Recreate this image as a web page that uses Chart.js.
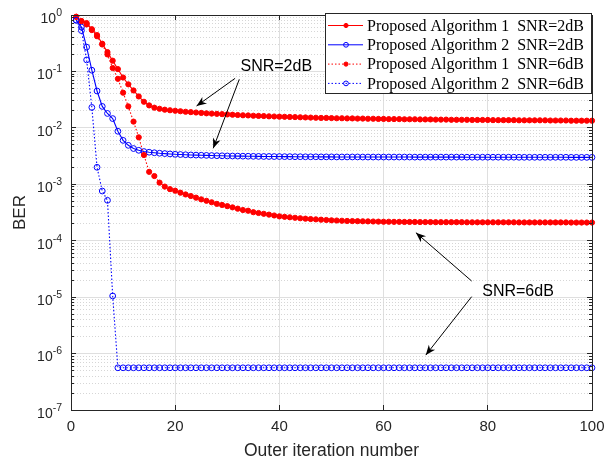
<!DOCTYPE html>
<html><head><meta charset="utf-8">
<script src="https://cdn.jsdelivr.net/npm/chart.js@4.4.1/dist/chart.umd.min.js"></script>
<style>html,body{margin:0;padding:0;background:#fff;}#wrap{width:613px;height:462px;}</style>
</head><body><div id="wrap"><canvas id="c" width="613" height="462"></canvas></div>
<script>
// ---------- data ----------
const iterations = [1,2,3,4,5,6,7,8,9,10,11,12,13,14,15,16,17,18,19,20,21,22,23,24,25,26,27,28,29,30,31,32,33,34,35,36,37,38,39,40,41,42,43,44,45,46,47,48,49,50,51,52,53,54,55,56,57,58,59,60,61,62,63,64,65,66,67,68,69,70,71,72,73,74,75,76,77,78,79,80,81,82,83,84,85,86,87,88,89,90,91,92,93,94,95,96,97,98,99,100];

const alg1Snr2 = [0.93,0.78,0.72,0.56,0.44,0.31,0.22,0.155,0.11,0.078,
0.059,0.046,0.036,0.029,0.025,0.0228,0.0218,0.0210,0.0205,0.0201,
0.0197,0.0193,0.0190,0.0187,0.0184,0.0181,0.0179,0.0177,0.0175,0.0173,
0.0171,0.0169,0.0167,0.0166,0.0164,0.0163,0.0162,0.0160,0.0159,0.0158,
0.0157,0.0156,0.0155,0.0154,0.0153,0.0152,0.0151,0.0150,0.0150,0.0149,
0.0148,0.0148,0.0147,0.0147,0.0146,0.0146,0.0145,0.0145,0.0144,0.0144,
0.0143,0.0143,0.0143,0.0142,0.0142,0.0142,0.0141,0.0141,0.0141,0.0140,
0.0140,0.0140,0.0139,0.0139,0.0139,0.0139,0.0138,0.0138,0.0138,0.0138,
0.0137,0.0137,0.0137,0.0137,0.0137,0.0136,0.0136,0.0136,0.0136,0.0136,
0.0136,0.0135,0.0135,0.0135,0.0135,0.0134,0.0134,0.0134,0.0134,0.0134];

const alg2Snr2 = [0.81,0.61,0.27,0.105,0.045,0.024,0.018,0.0146,0.0087,0.0060,
0.0049,0.0043,0.0040,0.0038,0.0037,0.00362,0.00355,0.00350,0.00345,0.00340,
0.00337,0.00334,0.00331,0.00329,0.00327,0.00325,0.00323,0.00321,0.00320,0.00318,
0.00317,0.00316,0.00315,0.00314,0.00313,0.00312,0.00311,0.00311,0.00310,0.00310,
0.00309,0.00309,0.00308,0.00308,0.00307,0.00307,0.00307,0.00306,0.00306,0.00306,
0.00305,0.00305,0.00305,0.00305,0.00305,0.00304,0.00304,0.00304,0.00304,0.00304,
0.00304,0.00304,0.00304,0.00304,0.00304,0.00303,0.00303,0.00303,0.00303,0.00303,
0.00303,0.00303,0.00303,0.00303,0.00303,0.00302,0.00302,0.00302,0.00302,0.00302,
0.00302,0.00302,0.00302,0.00302,0.00302,0.00301,0.00301,0.00301,0.00301,0.00301,
0.00301,0.00301,0.00301,0.00301,0.00301,0.00300,0.00300,0.00300,0.00300,0.00300];

const alg1Snr6 = [0.93,0.78,0.68,0.54,0.42,0.30,0.20,0.115,0.074,0.042,
0.024,0.0129,0.0068,0.0033,0.00166,0.0014,0.00107,0.00091,0.00082,0.00077,
0.00071,0.00066,0.00062,0.00058,0.00054,0.00051,0.00048,0.00045,0.00043,0.00041,
0.00039,0.00037,0.00035,0.00034,0.00032,0.00031,0.00030,0.00029,0.00028,0.00027,
0.000265,0.00026,0.000255,0.00025,0.000246,0.000242,0.000239,0.000236,0.000233,0.00023,
0.000228,0.000226,0.000224,0.000223,0.000222,0.000221,0.00022,0.000219,0.000218,0.000217,
0.000217,0.000216,0.000216,0.000215,0.000215,0.000215,0.000214,0.000214,0.000214,0.000213,
0.000213,0.000213,0.000213,0.000213,0.000213,0.000212,0.000212,0.000212,0.000212,0.000212,
0.000212,0.000212,0.000212,0.000212,0.000212,0.000211,0.000211,0.000211,0.000211,0.000211,
0.000211,0.000211,0.000211,0.000211,0.000211,0.00021,0.00021,0.00021,0.00021,0.00021];

const alg2Snr6 = [0.81,0.53,0.16,0.023,0.0020,0.00076,0.00052,1.05e-5,5.6e-7,5.6e-7,
5.6e-7,5.6e-7,5.6e-7,5.6e-7,5.6e-7,5.6e-7,5.6e-7,5.6e-7,5.6e-7,5.6e-7,
5.6e-7,5.6e-7,5.6e-7,5.6e-7,5.6e-7,5.6e-7,5.6e-7,5.6e-7,5.6e-7,5.6e-7,
5.6e-7,5.6e-7,5.6e-7,5.6e-7,5.6e-7,5.6e-7,5.6e-7,5.6e-7,5.6e-7,5.6e-7,
5.6e-7,5.6e-7,5.6e-7,5.6e-7,5.6e-7,5.6e-7,5.6e-7,5.6e-7,5.6e-7,5.6e-7,
5.6e-7,5.6e-7,5.6e-7,5.6e-7,5.6e-7,5.6e-7,5.6e-7,5.6e-7,5.6e-7,5.6e-7,
5.6e-7,5.6e-7,5.6e-7,5.6e-7,5.6e-7,5.6e-7,5.6e-7,5.6e-7,5.6e-7,5.6e-7,
5.6e-7,5.6e-7,5.6e-7,5.6e-7,5.6e-7,5.6e-7,5.6e-7,5.6e-7,5.6e-7,5.6e-7,
5.6e-7,5.6e-7,5.6e-7,5.6e-7,5.6e-7,5.6e-7,5.6e-7,5.6e-7,5.6e-7,5.6e-7,
5.6e-7,5.6e-7,5.6e-7,5.6e-7,5.6e-7,5.6e-7,5.6e-7,5.6e-7,5.6e-7,5.6e-7];

const seriesLabels = ['Proposed Algorithm 1  SNR=2dB','Proposed Algorithm 2  SNR=2dB','Proposed Algorithm 1  SNR=6dB','Proposed Algorithm 2  SNR=6dB'];
const xTickValues = [0,20,40,60,80,100];
const yDecadeExponents = [0,-1,-2,-3,-4,-5,-6,-7];
const xTitle = 'Outer iteration number';
const yTitle = 'BER';
// annotation text anchors and arrows in data coordinates [x1,y1,x2,y2]
const annotations = [
  {text:'SNR=2dB', x:39.4, y:0.121, arrows:[[31.5,0.0755,24.1,0.0244],[32.3,0.0726,27.3,0.00434]]},
  {text:'SNR=6dB', x:85.8, y:1.25e-5, arrows:[[76.9,1.93e-5,66.2,1.39e-4],[76.9,1.02e-5,68.1,9.4e-7]]}
];

// ---------- helpers ----------
const isDecade = v => Math.abs(Math.log10(v) - Math.round(Math.log10(v))) < 1e-6;
const yTickValues = [];
yDecadeExponents.slice().sort((a,b)=>a-b).forEach(e => {
  if (e === 0) { yTickValues.push(1); return; }
  for (let m = 1; m <= 9; m++) yTickValues.push(+(m * Math.pow(10, e)).toPrecision(6));
});
const pts = vals => iterations.map((it, i) => ({x: it, y: vals[i]}));

const RED = 'rgb(255,0,0)', BLUE = 'rgb(0,0,255)';
const DOT = [1.5, 2];
const styles = [
  {color: RED, dash: [], filled: true},
  {color: BLUE, dash: [], filled: false},
  {color: RED, dash: DOT, filled: true},
  {color: BLUE, dash: DOT, filled: false}
];
const seriesValues = [alg1Snr2, alg2Snr2, alg1Snr6, alg2Snr6];

const datasets = seriesValues.map((vals, i) => {
  const s = styles[i];
  return {
    label: seriesLabels[i],
    data: pts(vals),
    borderColor: s.color,
    borderWidth: 1.1,
    borderDash: s.dash,
    pointRadius: s.filled ? 2.6 : 2.9,
    pointBorderWidth: 1,
    pointBorderColor: s.color,
    pointBackgroundColor: s.filled ? s.color : 'rgba(0,0,0,0)',
    tension: 0,
    clip: false,
    order: 4 - i
  };
});

function drawArrow(ctx, x1, y1, x2, y2) {
  ctx.beginPath(); ctx.moveTo(x1, y1); ctx.lineTo(x2, y2); ctx.stroke();
  const ang = Math.atan2(y2 - y1, x2 - x1);
  const L = 10, W = 4, N = 7;
  const cx = Math.cos(ang), sy = Math.sin(ang);
  const bx = x2 - cx * L, by = y2 - sy * L;
  const nx = x2 - cx * N, ny = y2 - sy * N;
  ctx.beginPath();
  ctx.moveTo(x2, y2);
  ctx.lineTo(bx - sy * W, by + cx * W);
  ctx.lineTo(nx, ny);
  ctx.lineTo(bx + sy * W, by - cx * W);
  ctx.closePath(); ctx.fill();
}

const framePlugin = {
  id: 'frame',
  afterDatasetsDraw(chart) {
    const {ctx, chartArea: a, scales: {x, y}} = chart;
    const AX = '#262626';
    ctx.save();
    // inner ticks
    ctx.strokeStyle = AX; ctx.lineWidth = 1; ctx.setLineDash([]);
    ctx.beginPath();
    y.ticks.forEach(t => {
      const py = Math.round(y.getPixelForValue(t.value) - 0.5) + 0.5;
      const len = isDecade(t.value) ? 5 : 3;
      ctx.moveTo(a.left, py); ctx.lineTo(a.left + len, py);
      ctx.moveTo(a.right, py); ctx.lineTo(a.right - len, py);
    });
    x.ticks.forEach(t => {
      const px = Math.round(x.getPixelForValue(t.value) - 0.5) + 0.5;
      ctx.moveTo(px, a.bottom); ctx.lineTo(px, a.bottom - 5);
      ctx.moveTo(px, a.top); ctx.lineTo(px, a.top + 5);
    });
    ctx.stroke();
    ctx.strokeRect(Math.round(a.left - 0.5) + 0.5, Math.round(a.top - 0.5) + 0.5,
                   Math.round(a.right - a.left), Math.round(a.bottom - a.top));
    // y tick labels 10^e
    ctx.fillStyle = AX;
    ctx.textBaseline = 'middle';
    ctx.textAlign = 'right';
    const rightEdge = a.left - 9;
    yDecadeExponents.forEach(e => {
      const py = y.getPixelForValue(Math.pow(10, e));
      const exp = String(e);
      ctx.font = '10.5px "Liberation Sans"';
      const ew = ctx.measureText(exp).width;
      ctx.fillText(exp, rightEdge, py - 2);
      ctx.font = '14px "Liberation Sans"';
      ctx.fillText('10', rightEdge - ew, py + 4);
    });
    // annotations
    ctx.fillStyle = '#000'; ctx.strokeStyle = '#000'; ctx.lineWidth = 1;
    ctx.font = '16px "Liberation Sans"';
    ctx.textAlign = 'center'; ctx.textBaseline = 'middle';
    annotations.forEach(an => {
      ctx.fillText(an.text, x.getPixelForValue(an.x), y.getPixelForValue(an.y));
      an.arrows.forEach(ar => drawArrow(ctx,
        x.getPixelForValue(ar[0]), y.getPixelForValue(ar[1]),
        x.getPixelForValue(ar[2]), y.getPixelForValue(ar[3])));
    });
    // legend
    const lw = 267, lh = 80;
    const lx = a.right - lw, ly = a.top - 2;
    ctx.fillStyle = '#fff';
    ctx.fillRect(lx, ly, lw, lh);
    ctx.strokeStyle = AX;
    ctx.strokeRect(Math.round(lx) + 0.5, Math.round(ly) + 0.5, lw - 1, lh);
    ctx.font = '16px "Liberation Serif"';
    ctx.textAlign = 'left'; ctx.textBaseline = 'middle';
    chart.data.datasets.forEach((ds, i) => {
      const yc = ly + 12.5 + i * 19.3;
      ctx.strokeStyle = ds.borderColor; ctx.lineWidth = 1;
      ctx.setLineDash(ds.borderDash);
      ctx.beginPath(); ctx.moveTo(lx + 3, yc); ctx.lineTo(lx + 38, yc); ctx.stroke();
      ctx.setLineDash([]);
      ctx.beginPath(); ctx.arc(lx + 21, yc, ds.pointRadius - 0.5, 0, Math.PI * 2);
      if (ds.pointBackgroundColor !== 'rgba(0,0,0,0)') { ctx.fillStyle = ds.pointBackgroundColor; ctx.fill(); }
      ctx.stroke();
      ctx.fillStyle = '#000';
      ctx.fillText(ds.label, lx + 42, yc + 1);
    });
    ctx.restore();
  }
};

new Chart(document.getElementById('c'), {
  type: 'line',
  data: {datasets},
  options: {
    responsive: false,
    animation: false,
    devicePixelRatio: 1,
    layout: {padding: {top: 15, right: 21, left: 0, bottom: 0}},
    plugins: {legend: {display: false}, tooltip: {enabled: false}},
    scales: {
      x: {
        type: 'linear', min: 0, max: 100,
        afterBuildTicks: s => { s.ticks = xTickValues.map(v => ({value: v})); },
        afterFit: s => { s.height = 52; },
        grid: {color: '#dfdfdf', lineWidth: 1, drawTicks: false},
        border: {display: false},
        ticks: {padding: 8, color: '#262626', font: {family: 'Liberation Sans', size: 15}, maxRotation: 0},
        title: {display: true, text: xTitle, color: '#262626', font: {family: 'Liberation Sans', size: 17.5}, padding: {top: 0, bottom: 0}}
      },
      y: {
        type: 'logarithmic', min: 1e-7, max: 1,
        afterBuildTicks: s => { s.ticks = yTickValues.map(v => ({value: v})); },
        afterFit: s => { s.width = 71; },
        grid: {
          color: c => (c.tick && isDecade(c.tick.value)) ? '#dfdfdf' : '#d6d6d6',
          lineWidth: 1, drawTicks: false
        },
        border: {display: false, dash: c => (c.tick && isDecade(c.tick.value)) ? [] : [1, 2]},
        ticks: {display: false},
        title: {display: true, text: yTitle, color: '#262626', font: {family: 'Liberation Sans', size: 17}, padding: {top: 10, bottom: 0}}
      }
    }
  },
  plugins: [framePlugin]
});
</script></body></html>
